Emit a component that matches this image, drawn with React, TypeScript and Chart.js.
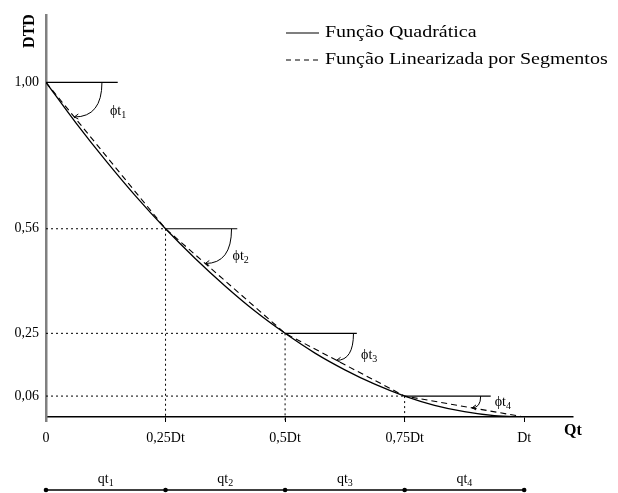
import React, { useEffect, useRef } from "react";
import { Chart, registerables } from "chart.js";

Chart.register(...registerables);

// Breakpoints of the piecewise-linear approximation
const breakQt = [0, 0.25, 0.5, 0.75, 1];
const breakDTD = [1, 0.5625, 0.25, 0.0625, 0];

// Quadratic curve
const quadQt = [0, 0.0625, 0.125, 0.1875, 0.25, 0.3125, 0.375, 0.4375, 0.5, 0.5625, 0.625, 0.6875, 0.75, 0.8125, 0.875, 0.9375, 1];
const quadDTD = [1, 0.879, 0.766, 0.66, 0.5625, 0.473, 0.391, 0.316, 0.25, 0.191, 0.141, 0.098, 0.0625, 0.035, 0.016, 0.004, 0];

const xTickValues = [0, 0.25, 0.5, 0.75, 1];
const xTickLabels = ["0", "0,25Dt", "0,5Dt", "0,75Dt", "Dt"];
const yTickValues = [0.0625, 0.25, 0.5625, 1];
const yTickLabels = ["0,06", "0,25", "0,56", "1,00"];

const angleSubs = ["1", "2", "3", "4"];
const segmentSubs = ["1", "2", "3", "4"];
const legendLabels = ["Função Quadrática", "Função Linearizada por Segmentos"];
const yTitle = "DTD";
const xTitle = "Qt";

// annotation geometry (style)
const hLineLen = [0.15, 0.15, 0.15, 0.18];
const arcStart = [0.117, 0.138, 0.143, 0.159];
const arcEndFrac = [0.8, 0.8, 0.85, 0.9];
const angleLabelOffset = [[64, 28], [67, 26], [76, 21], [90, 5]];

const SERIF = '"Liberation Serif", "DejaVu Serif", serif';
const SX = 1.0;
const LEGEND_SX = 1.25;

function stretchText(ctx: CanvasRenderingContext2D, text: string, x: number, y: number, sx = SX) {
  ctx.save();
  ctx.translate(x, y);
  ctx.scale(sx, 1);
  ctx.fillText(text, 0, 0);
  const w = ctx.measureText(text).width * sx;
  ctx.restore();
  return w;
}

function subText(ctx: CanvasRenderingContext2D, main: string, sub: string, x: number, y: number, size: number, align: "left" | "center" = "left") {
  ctx.font = `${size}px ${SERIF}`;
  const wm = ctx.measureText(main).width * SX;
  ctx.font = `${Math.round(size * 0.72)}px ${SERIF}`;
  const ws = ctx.measureText(sub).width * SX;
  let x0 = x;
  if (align === "center") x0 = x - (wm + ws) / 2;
  ctx.font = `${size}px ${SERIF}`;
  ctx.textAlign = "left";
  ctx.textBaseline = "alphabetic";
  stretchText(ctx, main, x0, y);
  ctx.font = `${Math.round(size * 0.72)}px ${SERIF}`;
  stretchText(ctx, sub, x0 + wm, y + 3);
}

const decorPlugin = {
  id: "decor",
  afterDatasetsDraw(chart: any) {
    const ctx: CanvasRenderingContext2D = chart.ctx;
    const xs = chart.scales.x;
    const ys = chart.scales.y;
    const X = (v: number) => xs.getPixelForValue(v);
    const Y = (v: number) => ys.getPixelForValue(v);
    ctx.save();
    ctx.strokeStyle = "#000";
    ctx.fillStyle = "#000";

    // dotted guides
    ctx.lineWidth = 1;
    ctx.setLineDash([2, 3]);
    for (let i = 1; i <= 3; i++) {
      const px = X(breakQt[i]);
      const py = Y(breakDTD[i]);
      ctx.beginPath();
      ctx.moveTo(X(0), py);
      ctx.lineTo(px, py);
      ctx.moveTo(px, py);
      ctx.lineTo(px, Y(0) + 5);
      ctx.stroke();
    }
    ctx.setLineDash([]);

    // horizontal reference lines, arcs, angle labels
    for (let i = 0; i < 4; i++) {
      const px = X(breakQt[i]);
      const py = Y(breakDTD[i]);
      ctx.lineWidth = 1.1;
      ctx.beginPath();
      ctx.moveTo(px, py);
      ctx.lineTo(X(breakQt[i] + hLineLen[i]), py);
      ctx.stroke();

      const sx = X(breakQt[i] + arcStart[i]);
      const r = sx - px;
      const nx = X(breakQt[i + 1]) - px;
      const ny = Y(breakDTD[i + 1]) - py;
      const nl = Math.hypot(nx, ny);
      const d = r * arcEndFrac[i];
      const ex = px + (nx / nl) * d;
      const ey = py + (ny / nl) * d;
      ctx.lineWidth = 1;
      ctx.beginPath();
      ctx.moveTo(sx, py);
      ctx.quadraticCurveTo(sx, ey, ex, ey);
      ctx.stroke();
      // arrow head
      ctx.beginPath();
      ctx.moveTo(ex + 4, ey - 3);
      ctx.lineTo(ex, ey);
      ctx.lineTo(ex + 4, ey + 2);
      ctx.stroke();

      ctx.fillStyle = "#000";
      subText(ctx, "ϕt", angleSubs[i], px + angleLabelOffset[i][0], py + angleLabelOffset[i][1] + 5, 14);
    }

    // legend
    const lx0 = 286, lx1 = 319;
    const ly = [33, 60];
    ctx.lineWidth = 1.1;
    ctx.beginPath();
    ctx.moveTo(lx0, ly[0]);
    ctx.lineTo(lx1, ly[0]);
    ctx.stroke();
    ctx.setLineDash([5, 4]);
    ctx.beginPath();
    ctx.moveTo(lx0, ly[1]);
    ctx.lineTo(lx1, ly[1]);
    ctx.stroke();
    ctx.setLineDash([]);
    ctx.font = `16px ${SERIF}`;
    ctx.textAlign = "left";
    ctx.textBaseline = "middle";
    stretchText(ctx, legendLabels[0], 325, ly[0], LEGEND_SX);
    stretchText(ctx, legendLabels[1], 325, ly[1], LEGEND_SX);

    // axis titles
    ctx.font = `bold 16px ${SERIF}`;
    ctx.textAlign = "center";
    ctx.textBaseline = "middle";
    ctx.save();
    ctx.translate(30, 31);
    ctx.rotate(-Math.PI / 2);
    ctx.fillText(yTitle, 0, 0);
    ctx.restore();
    ctx.fillText(xTitle, 573, 431);

    // bottom segment bar
    const by = 490;
    ctx.lineWidth = 1.3;
    ctx.beginPath();
    ctx.moveTo(X(breakQt[0]), by);
    ctx.lineTo(X(breakQt[4]), by);
    ctx.stroke();
    for (let i = 0; i < breakQt.length; i++) {
      ctx.beginPath();
      ctx.arc(X(breakQt[i]), by, 2.3, 0, Math.PI * 2);
      ctx.fill();
    }
    for (let i = 0; i < 4; i++) {
      const cx = (X(breakQt[i]) + X(breakQt[i + 1])) / 2;
      subText(ctx, "qt", segmentSubs[i], cx, 483, 14, "center");
    }
    ctx.restore();
  },
};

export default function App() {
  const ref = useRef<HTMLCanvasElement | null>(null);
  useEffect(() => {
    if (!ref.current) return;
    const chart = new Chart(ref.current, {
      type: "scatter",
      data: {
        datasets: [
          {
            label: legendLabels[0],
            data: quadQt.map((x, i) => ({ x, y: quadDTD[i] })),
            showLine: true,
            borderColor: "#000",
            borderWidth: 1.3,
            pointRadius: 0,
            cubicInterpolationMode: "monotone",
          },
          {
            label: legendLabels[1],
            data: breakQt.map((x, i) => ({ x, y: breakDTD[i] })),
            showLine: true,
            borderColor: "#000",
            borderWidth: 1.1,
            borderDash: [6, 4],
            pointRadius: 0,
          },
        ],
      },
      options: {
        animation: false,
        responsive: false,
        devicePixelRatio: 1,
        layout: { padding: { left: 0, top: 12, right: 46, bottom: 0 } },
        plugins: { legend: { display: false }, tooltip: { enabled: false } },
        scales: {
          x: {
            type: "linear",
            min: 0,
            max: 1.1,
            afterBuildTicks: (s: any) => {
              s.ticks = xTickValues.map((v) => ({ value: v }));
            },
            afterFit: (s: any) => {
              s.height = 76;
            },
            ticks: {
              callback: (_v: any, i: number) => xTickLabels[i],
              font: { family: SERIF, size: 14 },
              color: "#000",
              padding: 8,
              maxRotation: 0,
              autoSkip: false,
            },
            grid: {
              drawOnChartArea: false,
              drawTicks: true,
              tickLength: 5,
              color: (c: any) => (c.index === 0 ? "#808080" : "#000"),
              lineWidth: (c: any) => (c.index === 0 ? 2.5 : 1),
            },
            border: { color: "#000", width: 1.5 },
          },
          y: {
            type: "linear",
            min: 0,
            max: 1.2,
            afterBuildTicks: (s: any) => {
              s.ticks = yTickValues.map((v) => ({ value: v }));
            },
            afterFit: (s: any) => {
              s.width = 46;
            },
            ticks: {
              callback: (_v: any, i: number) => yTickLabels[i],
              font: { family: SERIF, size: 14 },
              color: "#000",
              padding: 7,
              autoSkip: false,
            },
            grid: { drawOnChartArea: false, drawTicks: false },
            border: { color: "#808080", width: 2.5 },
          },
        },
      },
      plugins: [decorPlugin],
    } as any);
    return () => chart.destroy();
  }, []);
  return (
    <div style={{ position: "absolute", left: 0, top: 0, width: 618, height: 493, background: "#fff" }}>
      <canvas ref={ref} width={618} height={493} style={{ display: "block" }} />
    </div>
  );
}
